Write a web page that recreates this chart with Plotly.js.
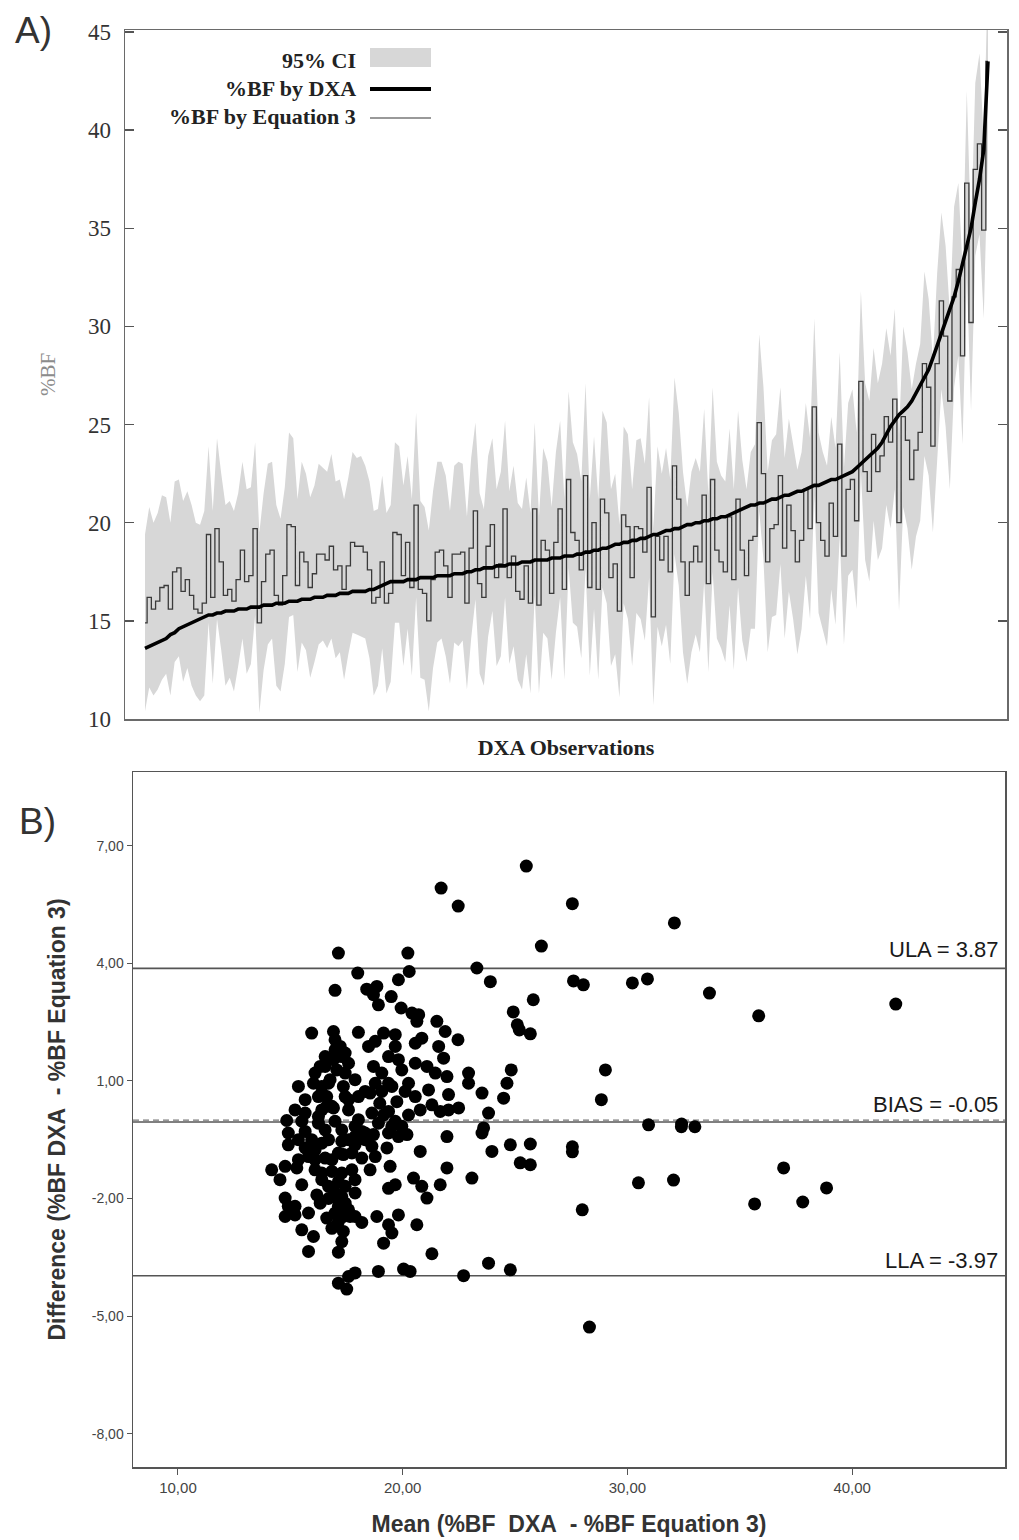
<!DOCTYPE html>
<html>
<head>
<meta charset="utf-8">
<script src="https://cdn.plot.ly/plotly-3.0.1.min.js"></script>
<style>
html,body{margin:0;padding:0;background:#ffffff;}
#chart{width:1019px;height:1540px;}
</style>
</head>
<body>
<div id="chart"></div>
<script>
// ---------- Panel A data (observations sorted by DXA %BF) ----------
const bfDXA = [
13.6,13.7,13.8,13.9,14.0,14.1,14.3,14.4,14.6,14.7,
14.8,14.9,15.0,15.1,15.2,15.3,15.3,15.4,15.4,15.5,
15.5,15.5,15.6,15.6,15.6,15.7,15.7,15.7,15.8,15.8,
15.8,15.9,15.9,15.9,16.0,16.0,16.0,16.1,16.1,16.1,
16.2,16.2,16.2,16.3,16.3,16.3,16.4,16.4,16.4,16.5,
16.5,16.5,16.5,16.6,16.6,16.7,16.8,16.9,17.0,17.0,
17.0,17.0,17.1,17.1,17.1,17.2,17.2,17.2,17.2,17.3,
17.3,17.3,17.3,17.4,17.4,17.4,17.5,17.5,17.6,17.6,
17.7,17.7,17.7,17.8,17.8,17.8,17.9,17.9,17.9,18.0,
18.0,18.0,18.1,18.1,18.1,18.1,18.2,18.2,18.2,18.3,
18.3,18.3,18.4,18.4,18.5,18.5,18.6,18.6,18.7,18.7,
18.8,18.9,18.9,19.0,19.0,19.1,19.1,19.2,19.2,19.3,
19.4,19.4,19.5,19.6,19.6,19.7,19.7,19.8,19.9,19.9,
20.0,20.0,20.1,20.1,20.2,20.2,20.3,20.3,20.4,20.5,
20.6,20.7,20.8,20.9,20.9,21.0,21.0,21.1,21.2,21.2,
21.3,21.4,21.4,21.5,21.6,21.6,21.7,21.8,21.9,21.9,
22.0,22.1,22.2,22.2,22.3,22.4,22.5,22.6,22.8,23.0,
23.2,23.4,23.6,23.8,24.1,24.5,24.9,25.2,25.5,25.7,
25.9,26.2,26.6,27.0,27.4,27.8,28.4,29.0,29.6,30.2,
30.8,31.5,32.3,33.2,34.0,35.0,36.3,37.5,39.0,43.5
];
const bfEquation3 = [
14.9,16.2,15.6,16.0,16.7,16.8,15.6,17.5,17.7,16.5,
17.1,16.3,15.6,15.4,15.9,19.4,16.2,19.7,18.0,16.3,
16.6,16.0,17.1,18.6,17.0,17.3,19.7,14.9,17.0,18.4,
18.6,16.3,15.8,17.3,19.9,19.8,16.8,18.5,18.0,16.7,
17.4,18.4,18.4,18.1,18.8,17.6,17.8,16.6,17.8,19.0,
18.8,18.8,18.5,17.6,15.9,16.2,18.0,15.9,16.4,19.5,
19.4,17.3,19.0,16.7,20.9,16.6,16.4,15.0,17.1,18.5,
18.6,17.8,16.2,18.4,18.4,18.5,15.9,18.7,20.6,16.9,
16.2,18.8,19.9,17.2,17.9,20.7,17.2,18.3,16.5,16.1,
17.8,15.9,20.7,15.8,19.1,18.6,16.4,19.0,20.7,16.6,
22.2,19.5,19.1,17.6,22.4,16.7,20.0,16.6,21.2,20.5,
17.2,17.9,15.5,20.4,19.8,17.2,19.8,19.7,18.5,21.8,
15.2,19.3,18.1,19.3,17.5,22.9,21.2,18.0,16.3,18.0,
18.8,18.0,21.4,16.9,22.2,18.6,18.0,17.5,20.3,17.1,
21.2,18.6,17.3,19.1,19.3,25.1,22.5,18.0,19.7,19.9,
22.4,18.7,20.9,19.6,18.0,19.1,21.7,19.7,25.9,20.0,
19.1,18.3,21.0,19.3,24.0,18.3,21.7,22.2,20.1,27.2,
22.6,21.6,24.5,22.6,23.4,25.4,24.1,26.3,20.0,25.4,
24.2,22.2,23.7,24.6,28.1,26.9,23.9,28.1,31.3,29.5,
26.2,31.5,32.9,28.5,37.3,30.2,38.0,39.3,34.9,43.5
];
const ciLower = [
10.4,11.6,11.2,11.5,12.0,12.3,11.2,12.9,13.2,11.9,
12.6,11.7,11.2,10.9,11.2,14.9,11.8,15.1,13.5,11.7,
12.1,11.4,12.7,14.1,12.3,12.8,15.3,10.3,12.5,13.8,
14.1,11.7,11.4,12.8,15.2,15.3,12.4,13.9,13.5,12.1,
12.9,13.8,14.0,13.6,14.1,13.1,13.4,12.0,13.3,14.4,
14.3,14.2,14.1,13.1,11.2,11.7,13.6,11.3,11.9,14.9,
14.9,12.7,14.6,12.2,16.2,12.1,12.0,10.4,12.6,13.9,
14.1,13.2,11.8,13.9,13.7,14.0,11.5,14.1,16.1,12.3,
11.7,14.2,15.5,12.7,13.2,16.2,12.8,13.7,12.0,11.5,
13.3,11.3,16.3,11.3,14.4,14.1,12.0,14.4,16.2,12.0,
17.7,14.9,14.7,13.1,17.7,12.2,15.6,12.0,16.7,15.9,
12.7,13.3,11.1,15.9,15.1,12.7,15.4,15.1,14.0,17.2,
10.7,14.7,13.7,14.8,12.8,18.4,16.8,13.4,11.8,13.4,
14.3,13.4,17.0,12.4,17.5,14.1,13.6,12.9,15.8,12.5,
16.7,14.0,12.9,14.6,14.6,20.6,18.1,13.4,15.2,15.3,
17.9,14.1,16.5,15.1,13.3,14.6,17.3,15.1,21.4,15.4,
14.6,13.7,16.6,14.8,19.3,13.8,17.3,17.6,15.6,22.6,
18.1,17.0,20.1,18.1,18.7,20.9,19.7,21.7,15.5,20.8,
19.7,17.6,19.3,20.1,23.4,22.4,19.5,23.5,26.8,24.9,
21.7,26.9,28.5,24.0,32.6,25.7,33.6,34.7,30.4,38.9
];
const ciUpper = [
19.4,20.8,20.0,20.5,21.4,21.3,20.0,22.1,22.2,21.1,
21.6,20.9,20.0,19.9,20.6,23.9,20.6,24.3,22.5,20.9,
21.1,20.6,21.5,23.1,21.7,21.8,24.1,19.5,21.5,23.0,
23.1,20.9,20.2,21.8,24.6,24.3,21.2,23.1,22.5,21.3,
21.9,23.0,22.8,22.6,23.5,22.1,22.2,21.2,22.3,23.6,
23.3,23.4,22.9,22.1,20.6,20.7,22.4,20.5,20.9,24.1,
23.9,21.9,23.4,21.2,25.6,21.1,20.8,19.6,21.6,23.1,
23.1,22.4,20.6,22.9,23.1,23.0,20.3,23.3,25.1,21.5,
20.7,23.4,24.3,21.7,22.6,25.2,21.6,22.9,21.0,20.7,
22.3,20.5,25.1,20.3,23.8,23.1,20.8,23.6,25.2,21.2,
26.7,24.1,23.5,22.1,27.1,21.2,24.4,21.2,25.7,25.1,
21.7,22.5,19.9,24.9,24.5,21.7,24.2,24.3,23.0,26.4,
19.7,23.9,22.5,23.8,22.2,27.4,25.6,22.6,20.8,22.6,
23.3,22.6,25.8,21.4,26.9,23.1,22.4,22.1,24.8,21.7,
25.7,23.2,21.7,23.6,24.0,29.6,26.9,22.6,24.2,24.5,
26.9,23.3,25.3,24.1,22.7,23.6,26.1,24.3,30.4,24.6,
23.6,22.9,25.4,23.8,28.7,22.8,26.1,26.8,24.6,31.8,
27.1,26.2,28.9,27.1,28.1,29.9,28.5,30.9,24.5,30.0,
28.7,26.8,28.1,29.1,32.8,31.4,28.3,32.7,35.8,34.1,
30.7,36.1,37.3,33.0,42.0,34.7,42.4,43.9,39.4,48.1
];
const panelATicks = [10,15,20,25,30,35,40,45];

// ---------- Panel B data (Bland-Altman) ----------
const baMean = [
17.14,20.23,18.0,20.29,19.81,16.99,18.4,18.85,18.7,18.92,19.49,19.93,20.41,20.71,20.63,21.52,21.89,22.46,21.6,21.82,
15.95,16.92,18.03,19.15,19.67,20.85,20.56,18.48,18.78,19.67,16.99,17.22,17.44,17.07,16.55,16.33,17.59,19.37,19.81,20.56,
18.7,19.96,19.07,21.08,21.45,21.97,22.93,22.93,15.36,16.03,16.77,17.36,18.33,17.88,19.07,19.52,20.11,20.56,21.15,22.04,
23.53,24.64,24.49,15.66,16.25,17.44,16.85,17.59,18.98,19.37,19.74,20.26,20.78,21.3,21.67,22.04,22.49,23.82,14.84,15.51,
16.25,16.99,17.88,18.92,19.67,19.96,23.6,23.53,14.91,15.66,16.55,17.29,18.18,18.7,19.37,20.19,21.97,14.91,15.66,16.4,
17.29,17.88,18.63,19.3,20.78,23.97,24.79,15.81,16.55,17.36,18.18,18.78,14.17,14.77,15.29,14.54,16.1,16.85,17.74,18.55,
19.44,21.97,15.51,16.4,17.14,17.88,19.37,19.67,20.48,20.85,21.67,23.08,16.18,16.7,17.29,17.88,21.08,14.77,14.91,17.14,
17.59,14.77,15.21,15.81,16.62,17.14,17.66,18.18,18.85,19.81,19.37,20.63,15.51,16.85,17.36,16.03,19.52,19.15,17.29,15.81,
17.14,21.3,23.82,17.88,17.59,18.92,20.04,20.33,22.71,24.79,17.14,17.51,
16.1,16.4,16.62,17.07,17.44,16.92,16.25,15.95,16.7,17.59,17.88,18.33,17.14,17.74,16.1,16.85,16.4,17.29,16.99,17.44,
17.14,17.44,16.99,17.36,17.88,18.33,18.03,18.63,19.15,19.52,19.81,16.62,16.4,16.7,16.55,16.92,17.29,16.99,16.4,18.55,
18.78,19.37,20.26,17.59,18.03,15.66,15.21,15.36,16.1,15.36,16.7,16.33,15.21,
25.5,21.71,22.47,27.55,32.09,26.17,23.3,23.9,27.6,28.04,30.22,30.89,33.65,35.84,41.94,25.81,24.92,25.1,25.19,25.68,
24.83,29.02,28.84,30.94,32.41,32.4,33.0,25.68,27.55,27.55,25.23,25.68,30.49,32.05,36.95,38.86,35.66,37.8,27.99,28.31
];
const baDifference = [
4.26,4.26,3.75,3.79,3.58,3.31,3.34,3.41,3.2,2.94,3.15,2.86,2.73,2.69,2.52,2.52,2.26,2.05,1.88,1.58,
2.22,2.26,2.24,2.22,2.18,2.09,1.96,1.88,2.01,1.88,2.05,1.88,1.71,1.67,1.62,1.37,1.45,1.62,1.54,1.45,
1.37,1.28,1.2,1.37,1.2,1.11,1.2,0.94,0.86,0.94,1.03,0.86,0.73,1.03,0.73,0.86,0.73,0.6,0.77,0.65,
0.69,0.94,0.56,0.52,0.6,0.6,0.35,0.26,0.43,0.22,0.47,0.13,0.26,0.39,0.22,0.26,0.31,0.18,-0.01,-0.03,
0.09,-0.03,-0.16,-0.08,-0.03,-0.16,-0.2,-0.33,-0.33,-0.29,-0.25,-0.25,-0.29,-0.37,-0.33,-0.37,-0.42,-0.63,-0.71,-0.59,
-0.54,-0.63,-0.67,-0.71,-0.8,-0.8,-0.63,-0.93,-0.97,-0.88,-0.97,-0.93,-1.27,-1.18,-1.22,-1.52,-1.27,-1.31,-1.27,-1.27,
-1.18,-1.22,-1.65,-1.52,-1.57,-1.52,-1.74,-1.65,-1.48,-1.69,-1.65,-1.48,-1.91,-2.0,-1.95,-1.86,-1.99,-1.99,-2.2,-2.2,
-2.29,-2.46,-2.42,-2.37,-2.5,-2.59,-2.46,-2.61,-2.46,-2.42,-2.67,-2.67,-2.8,-2.76,-2.84,-2.97,-2.88,-3.14,-3.1,-3.35,
-3.37,-3.41,-3.65,-3.9,-3.99,-3.86,-3.8,-3.86,-3.97,-3.82,-4.16,-4.31,
1.2,0.86,0.6,1.28,1.2,0.31,-0.08,-0.5,-0.5,-0.5,-0.42,-0.5,-0.84,-0.84,-1.01,-1.01,-1.35,-1.35,-1.86,-1.69,
-2.03,-2.12,-2.37,-2.46,-2.46,-0.33,0.01,0.18,0.13,-0.16,-0.42,0.35,0.26,0.94,1.37,1.54,1.62,1.79,0.69,0.69,
0.94,0.94,0.94,0.52,0.6,0.18,0.26,-0.5,-0.76,-1.01,-1.69,-2.12,-2.2,
6.48,5.92,5.46,5.52,5.03,4.44,3.88,3.53,3.55,3.45,3.5,3.6,3.24,2.66,2.96,3.07,2.76,2.43,2.3,2.2,
1.28,1.28,0.52,-0.12,-0.1,-0.17,-0.17,-0.61,-0.68,-0.81,-1.09,-1.14,-1.6,-1.53,-1.22,-1.73,-2.14,-2.09,-2.29,-5.28
];
const limitsOfAgreement = {ula: 3.87, bias: -0.05, lla: -3.97};
const zeroLine = 0;
const baYTicks = [7, 4, 1, -2, -5, -8];
const baYTickText = ['7,00', '4,00', '1,00', '-2,00', '-5,00', '-8,00'];
const baXTicks = [10, 20, 30, 40];
const baXTickText = ['10,00', '20,00', '30,00', '40,00'];

// ---------- layout helpers ----------
const W = 1019, H = 1540;
const px = v => v / W;
const py = v => 1 - v / H;
const SERIF = 'Liberation Serif, Times New Roman, serif';
const SANS = 'Liberation Sans, Arial, sans-serif';
const NB = '\u00a0';

const traces = [
  {type: 'scatter', mode: 'lines', y: ciLower, xaxis: 'x', yaxis: 'y',
   line: {width: 0, color: 'rgba(0,0,0,0)'}, hoverinfo: 'skip', name: '95% CI low'},
  {type: 'scatter', mode: 'lines', y: ciUpper, xaxis: 'x', yaxis: 'y',
   fill: 'tonexty', fillcolor: '#d7d7d7', line: {width: 0, color: 'rgba(0,0,0,0)'}, name: '95% CI'},
  {type: 'scatter', mode: 'lines', y: bfEquation3, xaxis: 'x', yaxis: 'y',
   line: {color: '#3a3a3a', width: 1.3, shape: 'hvh'}, name: '%BF by Equation 3'},
  {type: 'scatter', mode: 'lines', y: bfDXA, xaxis: 'x', yaxis: 'y',
   line: {color: '#000000', width: 3.6, shape: 'linear'}, name: '%BF by DXA'},
  {type: 'scatter', mode: 'markers', x: baMean, y: baDifference, xaxis: 'x2', yaxis: 'y2',
   marker: {size: 13, color: '#000000'}, name: 'Bland-Altman'}
];

const hline = (yv, color, width, dash) => ({
  type: 'line', xref: 'x2 domain', x0: 0, x1: 1, yref: 'y2', y0: yv, y1: yv,
  line: {color: color, width: width, dash: dash || 'solid'}, layer: 'below'
});

const layout = {
  width: W, height: H,
  margin: {l: 0, r: 0, t: 0, b: 0},
  paper_bgcolor: '#ffffff', plot_bgcolor: '#ffffff',
  showlegend: false,
  xaxis: {
    domain: [px(125), px(1007)], anchor: 'y', range: [-4.72, 203.49],
    showticklabels: false, ticks: '', showgrid: false, zeroline: false,
    showline: true, mirror: true, linecolor: '#6a6a6a', linewidth: 1.5,
    title: {text: '<b>DXA Observations</b>', font: {family: SERIF, size: 22, color: '#222222'}, standoff: 20}
  },
  yaxis: {
    domain: [py(719), py(30)], anchor: 'x', range: [10, 45.1],
    tickvals: panelATicks, ticks: 'inside', ticklen: 9, tickwidth: 1.5, tickcolor: '#555555',
    mirror: 'ticks', showline: true, linecolor: '#6a6a6a', linewidth: 1.5,
    showgrid: false, zeroline: false, ticklabelstandoff: 8,
    tickfont: {family: SERIF, size: 23, color: '#333333'},
    title: {text: '%BF', font: {family: SERIF, size: 21, color: '#8c8c8c'}, standoff: 26}
  },
  xaxis2: {
    domain: [px(133), px(1005)], anchor: 'y2', range: [8, 46.8],
    tickvals: baXTicks, ticktext: baXTickText, ticks: 'outside', ticklen: 6, tickwidth: 1, tickcolor: '#555555',
    showline: true, mirror: true, linecolor: '#555555', linewidth: 1.5,
    showgrid: false, zeroline: false,
    tickfont: {family: SANS, size: 15, color: '#444444'},
    title: {text: '<b>Mean (%BF' + NB + NB + 'DXA' + NB + NB + '- %BF Equation 3)</b>', font: {family: SANS, size: 23, color: '#333333'}, standoff: 21}
  },
  yaxis2: {
    domain: [py(1467), py(772)], anchor: 'x2', range: [-8.85, 8.88],
    tickvals: baYTicks, ticktext: baYTickText, ticks: 'outside', ticklen: 5, tickwidth: 1, tickcolor: '#555555',
    showline: true, mirror: true, linecolor: '#555555', linewidth: 1.5,
    showgrid: false, zeroline: false,
    tickfont: {family: SANS, size: 14, color: '#444444'},
    title: {text: '<b>Difference (%BF' + NB + 'DXA' + NB + NB + '- %BF Equation 3)</b>', font: {family: SANS, size: 23, color: '#333333'}, standoff: 19}
  },
  shapes: [
    hline(limitsOfAgreement.ula, '#555555', 1.6),
    hline(zeroLine, '#777777', 1.4, '6px,4px'),
    hline(limitsOfAgreement.bias, '#555555', 1.6),
    hline(limitsOfAgreement.lla, '#555555', 1.6),
    {type: 'rect', xref: 'paper', yref: 'paper', x0: px(370), x1: px(431), y0: py(67), y1: py(48),
     fillcolor: '#d7d7d7', line: {width: 0}},
    {type: 'line', xref: 'paper', yref: 'paper', x0: px(370), x1: px(431), y0: py(89), y1: py(89),
     line: {color: '#000000', width: 4}},
    {type: 'line', xref: 'paper', yref: 'paper', x0: px(370), x1: px(431), y0: py(118), y1: py(118),
     line: {color: '#777777', width: 1.6}}
  ],
  annotations: [
    {text: 'A)', xref: 'paper', yref: 'paper', x: px(13), y: py(31), xanchor: 'left', yanchor: 'middle',
     showarrow: false, font: {family: SANS, size: 37, color: '#333333'}},
    {text: 'B)', xref: 'paper', yref: 'paper', x: px(17), y: py(821), xanchor: 'left', yanchor: 'middle',
     showarrow: false, font: {family: SANS, size: 37, color: '#333333'}},
    {text: '<b>95% CI</b>', xref: 'paper', yref: 'paper', x: px(358), y: py(60), xanchor: 'right', yanchor: 'middle',
     showarrow: false, font: {family: SERIF, size: 22, color: '#222222'}},
    {text: '<b>%BF by DXA</b>', xref: 'paper', yref: 'paper', x: px(358), y: py(88), xanchor: 'right', yanchor: 'middle',
     showarrow: false, font: {family: SERIF, size: 22, color: '#222222'}},
    {text: '<b>%BF by Equation 3</b>', xref: 'paper', yref: 'paper', x: px(358), y: py(116), xanchor: 'right', yanchor: 'middle',
     showarrow: false, font: {family: SERIF, size: 22, color: '#222222'}},
    {text: 'ULA = ' + limitsOfAgreement.ula.toFixed(2), xref: 'paper', yref: 'y2', x: px(1000), y: limitsOfAgreement.ula,
     xanchor: 'right', yanchor: 'bottom', yshift: 4, showarrow: false, font: {family: SANS, size: 22, color: '#1a1a1a'}},
    {text: 'BIAS = ' + limitsOfAgreement.bias.toFixed(2), xref: 'paper', yref: 'y2', x: px(1000), y: zeroLine,
     xanchor: 'right', yanchor: 'bottom', yshift: 1, showarrow: false, font: {family: SANS, size: 22, color: '#1a1a1a'}},
    {text: 'LLA = ' + limitsOfAgreement.lla.toFixed(2), xref: 'paper', yref: 'y2', x: px(1000), y: limitsOfAgreement.lla,
     xanchor: 'right', yanchor: 'bottom', yshift: 1, showarrow: false, font: {family: SANS, size: 22, color: '#1a1a1a'}}
  ]
};

Plotly.newPlot('chart', traces, layout, {staticPlot: true, displayModeBar: false});
</script>
</body>
</html>
